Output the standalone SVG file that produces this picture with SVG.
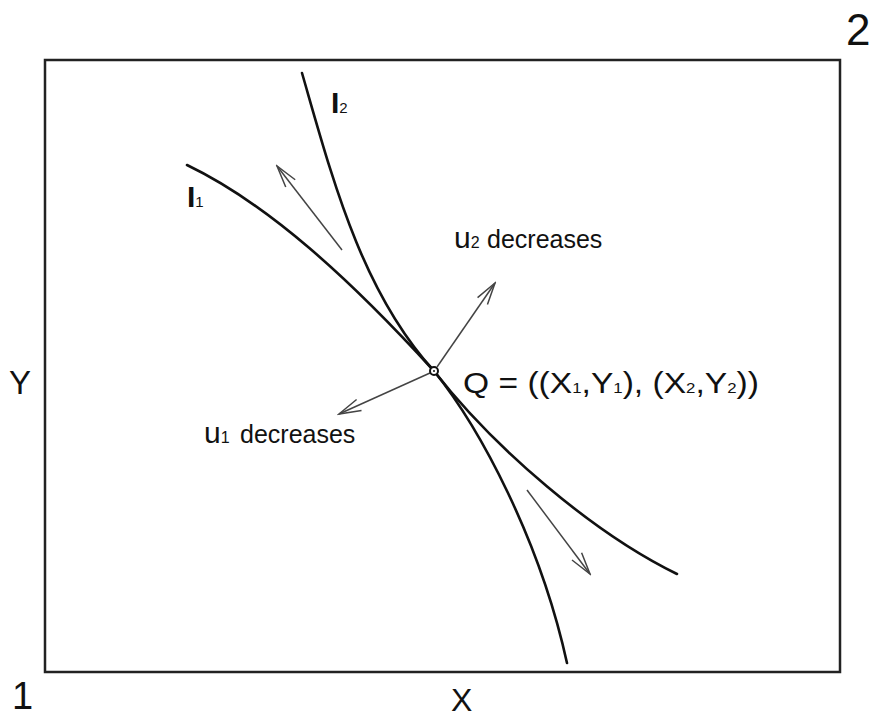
<svg xmlns="http://www.w3.org/2000/svg" width="870" height="719" viewBox="0 0 870 719">
<style>
text{font-family:"Liberation Sans",Arial,sans-serif;fill:#111}
.curve{fill:none;stroke:#111;stroke-width:2.6;stroke-linecap:round}
.arr{fill:none;stroke:#444;stroke-width:1.5;marker-end:url(#ah)}
.box{fill:none;stroke:#222;stroke-width:2.5}
</style>
<defs>
<marker id="ah" viewBox="-24 -8 26 16" refX="0" refY="0" markerWidth="26" markerHeight="16" markerUnits="userSpaceOnUse" orient="auto">
<path d="M-22,-6 L0,0 L-22,6" fill="none" stroke="#444" stroke-width="1.5"/>
</marker>
</defs>
<rect width="870" height="719" fill="#fff"/>
<g id="box"><rect class="box" x="45" y="60" width="795" height="612"/></g>
<g id="origins">
<text x="12" y="709" font-size="38">1</text>
<text x="846" y="45" font-size="44">2</text>
</g>
<g id="axes">
<text x="451" y="711" font-size="32">X</text>
<text x="9" y="394" font-size="33">Y</text>
</g>
<g id="curve-I2"><path class="curve" d="M302,73 C332,177 361,291 434,371 C494,448 593,533 677,574"/>
<text x="331" y="113" font-size="30" font-weight="bold">I<tspan font-size="15" font-weight="normal">2</tspan></text></g>
<g id="curve-I1"><path class="curve" d="M187,165 C268,204 349,278 434,371 C480,428 540,540 567,663"/>
<text x="187" y="207" font-size="30" font-weight="bold">I<tspan font-size="15" font-weight="normal">1</tspan></text></g>
<g id="connectors">
<line class="arr" x1="342" y1="250" x2="277" y2="166"/>
<line class="arr" x1="437" y1="367" x2="495" y2="283"/>
<line class="arr" x1="430" y1="373" x2="339" y2="414"/>
<line class="arr" x1="527" y1="490" x2="590" y2="574"/>
</g>
<g id="point-Q">
<circle cx="434" cy="371" r="4" fill="#fff" stroke="#111" stroke-width="2"/>
<circle cx="434" cy="371" r="1" fill="#111"/>
<text transform="translate(463,393) scale(1.12,1)" font-size="30">Q = ((X<tspan font-size="15">1</tspan>,Y<tspan font-size="15">1</tspan>), (X<tspan font-size="15">2</tspan>,Y<tspan font-size="15">2</tspan>))</text>
</g>
<g id="label-u2"><text x="454" y="248" font-size="30">u<tspan font-size="16">2</tspan><tspan x="487" font-size="25">decreases</tspan></text></g>
<g id="label-u1"><text x="204" y="443" font-size="30">u<tspan font-size="16">1</tspan><tspan x="240" font-size="25">decreases</tspan></text></g>
</svg>
